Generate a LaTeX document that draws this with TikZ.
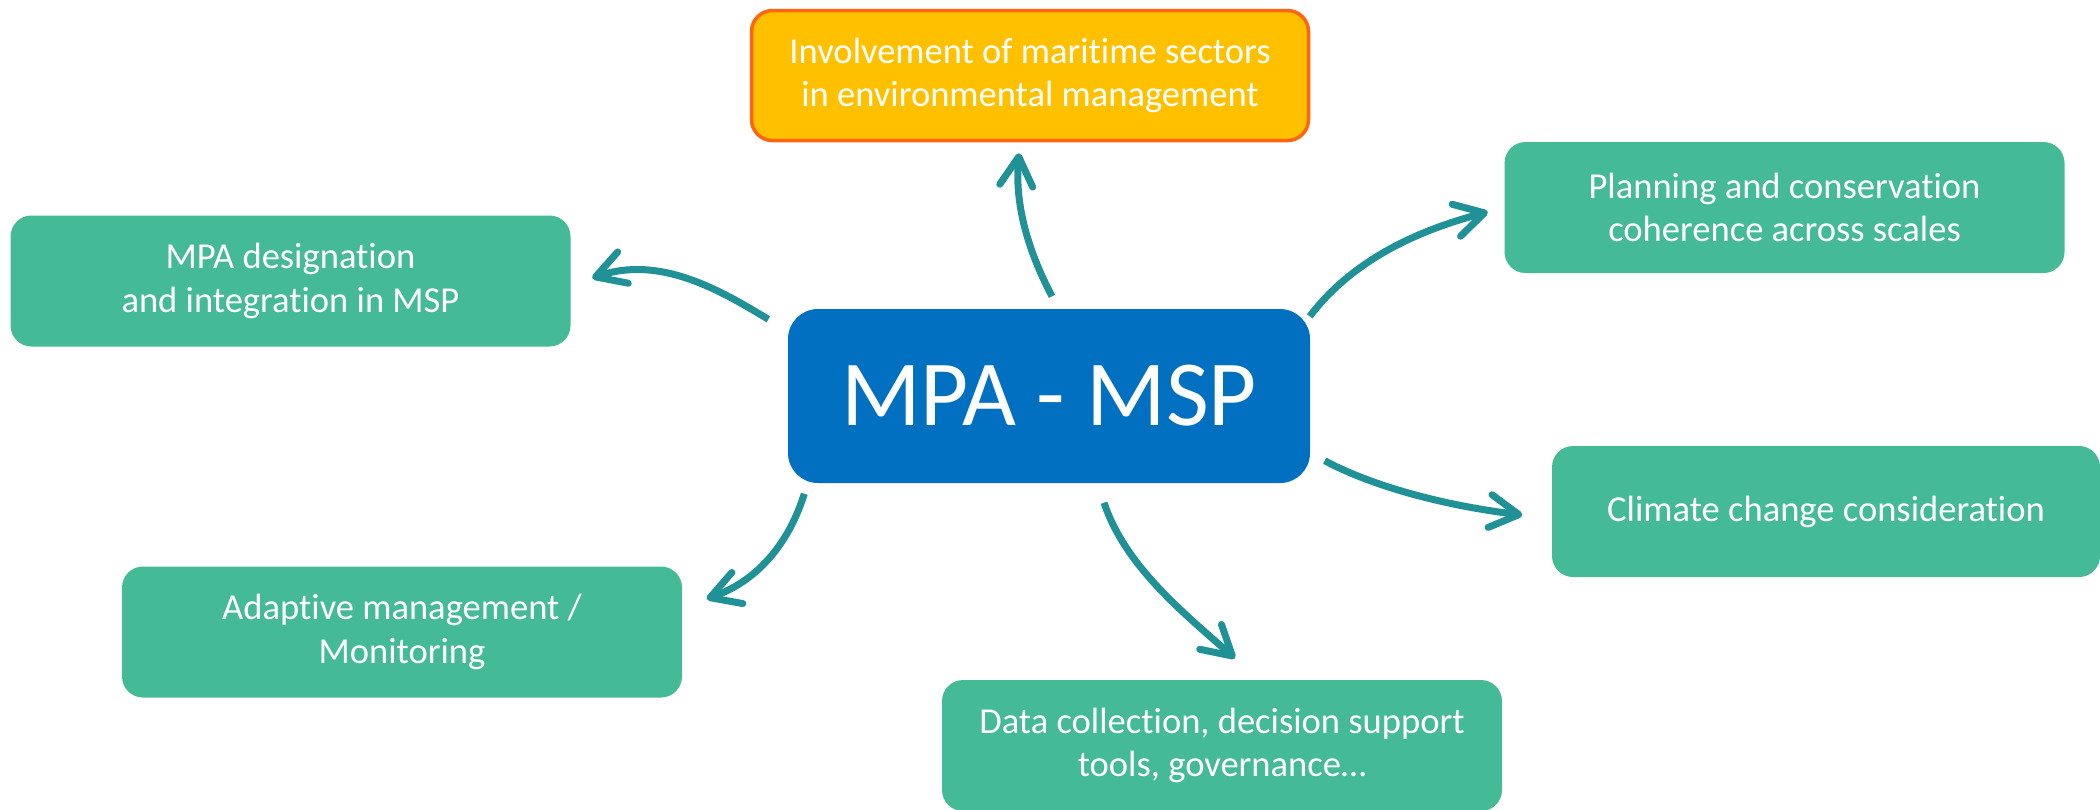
\documentclass[tikz,border=0pt]{standalone}
\usepackage{fontspec}
\setmainfont{Carlito}[Ligatures=NoCommon]
\usetikzlibrary{arrows.meta}
\definecolor{hubblue}{RGB}{2,112,192}
\definecolor{leafgreen}{RGB}{69,186,151}
\definecolor{sectorgold}{RGB}{255,192,0}
\definecolor{sectorrim}{RGB}{255,100,16}
\definecolor{linkteal}{RGB}{32,145,150}

\begin{document}
\begin{tikzpicture}[x=0.1mm,y=-0.1mm,
		box/.style={rounded corners=2.1mm, fill=leafgreen, text=white, align=center, inner sep=0pt, minimum width=56mm, minimum height=13.1mm, font=\fontsize{10.4}{12.3}\selectfont},
		hubbox/.style={rounded corners=3mm, fill=hubblue, text=white, inner sep=0pt, minimum width=52.2mm, minimum height=17.4mm, font=\fontsize{26.5}{30}\selectfont},
		link/.style={draw=linkteal, line width=0.7mm, -{Straight Barb[length=2.9mm,width=3.3mm,round]}}]
			\useasboundingbox (0,0) rectangle (2100,809);
			\node[hubbox] (hub) at (1049,396) {MPA - MSP};
			\node[box, fill=sectorgold, draw=sectorrim, line width=0.35mm, minimum width=55.7mm, minimum height=13mm] (invol) at (1030,75.5) {Involvement of maritime sectors\\in environmental management};
			\node[box] (desig) at (290.5,281) {MPA designation\\and integration in MSP};
			\node[box] (adapt) at (402,632) {Adaptive management /\\Monitoring};
			\node[box] (plan) at (1784.5,207.5) {Planning and conservation\\coherence across scales};
			\node[box, minimum width=54.8mm] (climate) at (1826,511.5) {Climate change consideration};
			\node[box] (data) at (1222,745.5) {Data collection, decision support\\tools, governance…};
			\draw[link] ([shift={(3,-12)}]hub.north) .. controls (1025,245) and (1015,200) .. ([shift={(-11,11)}]invol.south);
			\draw[link] ([shift={(-19,11)}]hub.north west) .. controls (720,290) and (660,255) .. ([shift={(21,-3)}]desig.east);
			\draw[link] ([shift={(17,10)}]hub.south west) .. controls (790,540) and (760,580) .. ([shift={(24,33)}]adapt.north east);
			\draw[link] ([shift={(55,19)}]hub.south) .. controls (1125,565) and (1180,610) .. ([shift={(13,-21)}]data.north);
			\draw[link] ([shift={(-1,8)}]hub.north east) .. controls (1345,270) and (1400,235) .. ([shift={(-16,4.5)}]plan.west);
			\draw[link] ([shift={(14,-23)}]hub.south east) .. controls (1370,485) and (1440,505) .. ([shift={(-29,3.5)}]climate.west);
		\end{tikzpicture}
\end{document}
